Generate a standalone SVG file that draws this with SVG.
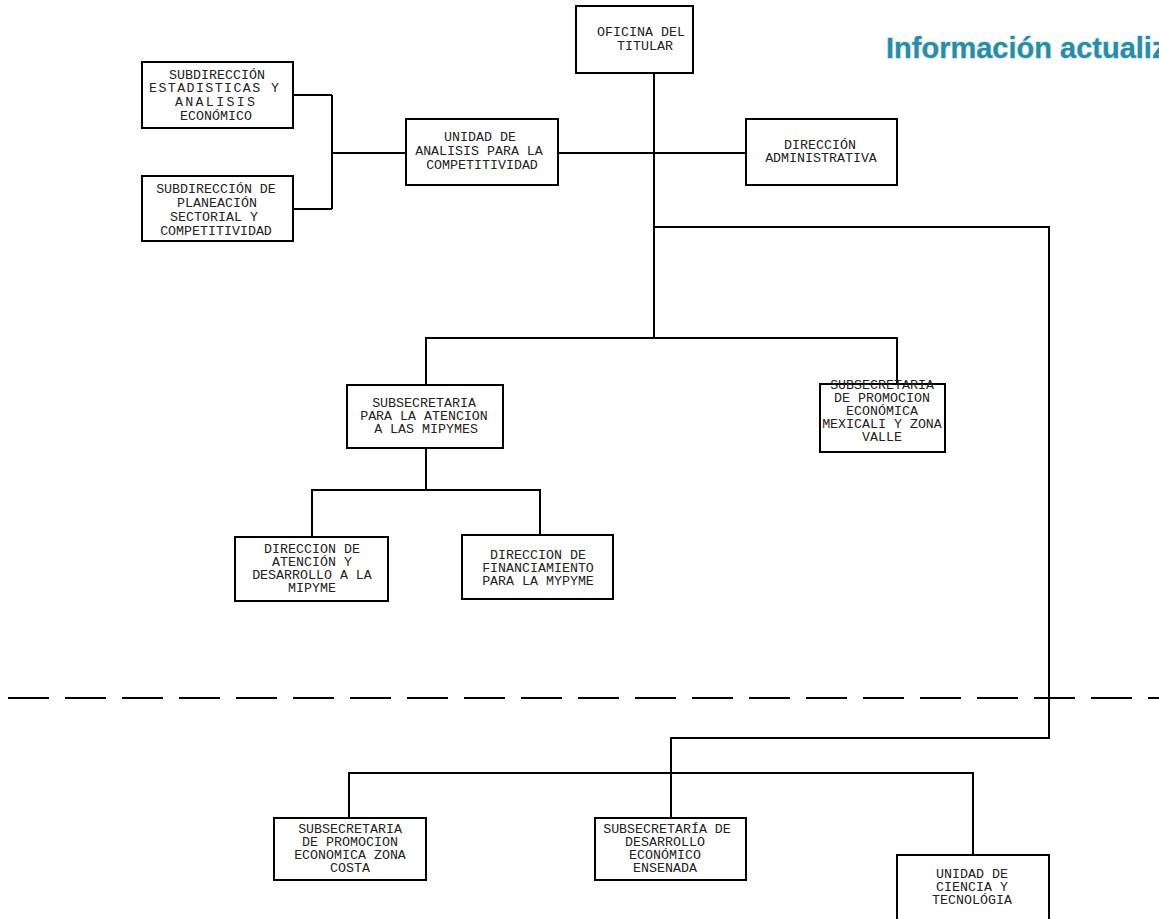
<svg xmlns="http://www.w3.org/2000/svg" width="1159" height="919" viewBox="0 0 1159 919">
<style>
.box{fill:#fff;stroke:#000;stroke-width:2}
.t{font-family:"Liberation Mono","Courier New",monospace;font-size:13.3px;fill:#222;text-anchor:middle}
.c{fill:none;stroke:#000;stroke-width:2}
.title{font-family:"Liberation Sans",Arial,sans-serif;font-weight:bold;font-size:29px;fill:#2c8aa5}
</style>
<rect width="1159" height="919" fill="#fff"/>
<text class="title" x="886" y="58" stroke="#bfeaf5" stroke-width="1.5" paint-order="stroke">Información actualiz</text>
<path d="M8 698 H1159" stroke="#000" stroke-width="2" stroke-dasharray="41 16" fill="none"/>
<g id="connectors">
<path class="c" d="M654 73 V338"/>
<path class="c" d="M558 153 H746"/>
<path class="c" d="M406 153 H332 M332 95 V209 M293 95 H332 M293 209 H332"/>
<path class="c" d="M654 227 H1049 V738 H671 V773"/>
<path class="c" d="M426 385 V338 H897 V384"/>
<path class="c" d="M426 448 V490 M312 537 V490 H540 V535"/>
<path class="c" d="M349 818 V773 H973 V855 M671 773 V818"/>
</g>
<g id="oficina"><rect class="box" x="576" y="6" width="117" height="67"/>
<text class="t"><tspan x="641" y="36">OFICINA DEL</tspan><tspan x="645" y="50">TITULAR</tspan></text></g>
<g id="sub-estadisticas"><rect class="box" x="142" y="62" width="151" height="66"/>
<text class="t"><tspan x="217" y="79">SUBDIRECCIÓN</tspan><tspan x="214" y="92" textLength="130" lengthAdjust="spacing">ESTADISTICAS Y</tspan><tspan x="215" y="106" textLength="80" lengthAdjust="spacing">ANALISIS</tspan><tspan x="216" y="120">ECONÓMICO</tspan></text></g>
<g id="sub-planeacion"><rect class="box" x="142" y="176" width="151" height="65"/>
<text class="t"><tspan x="216" y="193">SUBDIRECCIÓN DE</tspan><tspan x="217" y="207">PLANEACIÓN</tspan><tspan x="214" y="221">SECTORIAL Y</tspan><tspan x="216" y="235">COMPETITIVIDAD</tspan></text></g>
<g id="unidad-analisis"><rect class="box" x="406" y="119" width="152" height="66"/>
<text class="t"><tspan x="480" y="141">UNIDAD DE</tspan><tspan x="479" y="155">ANALISIS PARA LA</tspan><tspan x="482" y="169">COMPETITIVIDAD</tspan></text></g>
<g id="dir-admin"><rect class="box" x="746" y="119" width="151" height="66"/>
<text class="t"><tspan x="820" y="149">DIRECCIÓN</tspan><tspan x="821" y="162">ADMINISTRATIVA</tspan></text></g>
<g id="subsec-mipymes"><rect class="box" x="347" y="385" width="156" height="63"/>
<text class="t"><tspan x="424" y="407">SUBSECRETARIA</tspan><tspan x="424" y="420">PARA LA ATENCION</tspan><tspan x="426" y="433">A LAS MIPYMES</tspan></text></g>
<g id="subsec-mexicali"><rect class="box" x="820" y="384" width="125" height="68"/>
<text class="t"><tspan x="882" y="389">SUBSECRETARIA</tspan><tspan x="882" y="402">DE PROMOCION</tspan><tspan x="882" y="415">ECONÓMICA</tspan><tspan x="882" y="428">MEXICALI Y ZONA</tspan><tspan x="882" y="441">VALLE</tspan></text></g>
<g id="dir-atencion"><rect class="box" x="235" y="537" width="153" height="64"/>
<text class="t"><tspan x="312" y="553">DIRECCION DE</tspan><tspan x="312" y="566">ATENCIÓN Y</tspan><tspan x="312" y="579">DESARROLLO A LA</tspan><tspan x="312" y="592">MIPYME</tspan></text></g>
<g id="dir-financiamiento"><rect class="box" x="462" y="535" width="151" height="64"/>
<text class="t"><tspan x="538" y="559">DIRECCION DE</tspan><tspan x="538" y="572">FINANCIAMIENTO</tspan><tspan x="538" y="585">PARA LA MYPYME</tspan></text></g>
<g id="subsec-costa"><rect class="box" x="274" y="818" width="152" height="62"/>
<text class="t"><tspan x="350" y="833">SUBSECRETARIA</tspan><tspan x="350" y="846">DE PROMOCION</tspan><tspan x="350" y="859">ECONOMICA ZONA</tspan><tspan x="350" y="872">COSTA</tspan></text></g>
<g id="subsec-ensenada"><rect class="box" x="595" y="818" width="151" height="62"/>
<text class="t"><tspan x="667" y="833">SUBSECRETARÍA DE</tspan><tspan x="665" y="846">DESARROLLO</tspan><tspan x="665" y="859">ECONÓMICO</tspan><tspan x="665" y="872">ENSENADA</tspan></text></g>
<g id="unidad-ciencia"><rect class="box" x="897" y="855" width="152" height="80"/>
<text class="t"><tspan x="972" y="878">UNIDAD DE</tspan><tspan x="972" y="891">CIENCIA Y</tspan><tspan x="972" y="904">TECNOLÓGIA</tspan></text></g>
</svg>
